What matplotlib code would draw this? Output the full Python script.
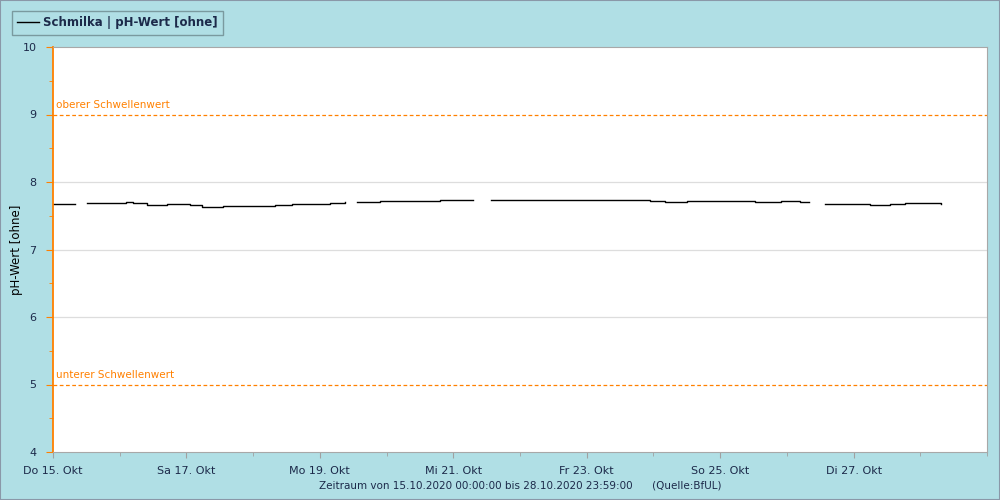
import numpy as np
import pandas as pd
import matplotlib
matplotlib.use("Agg")
import matplotlib.pyplot as plt
import matplotlib.dates as mdates
from matplotlib.patches import Rectangle

#measurement segments, days since 15.10.2020 00:00 and pH value
seg_days = [
    [0.0, 0.33],
    [0.51, 0.78, 0.97, 1.09, 1.20, 1.30, 1.41, 1.71, 2.05, 2.23, 2.55, 2.95, 3.33, 3.58, 4.15, 4.30, 4.38],
    [4.56, 4.90, 5.35, 5.80, 6.30],
    [6.57, 8.01, 8.95, 9.18, 9.51, 10.52, 10.91, 11.20, 11.33],
    [11.57, 11.95, 12.25, 12.55, 12.77, 13.00, 13.31],
]
seg_values = [
    [7.67, 7.67],
    [7.69, 7.685, 7.69, 7.70, 7.695, 7.685, 7.66, 7.67, 7.655, 7.635, 7.645, 7.645, 7.665, 7.68, 7.685, 7.69, 7.70],
    [7.71, 7.72, 7.725, 7.73, 7.73],
    [7.74, 7.73, 7.715, 7.70, 7.715, 7.70, 7.715, 7.70, 7.70],
    [7.68, 7.675, 7.665, 7.675, 7.69, 7.685, 7.68],
]
upper_limit = 9
lower_limit = 5
tick_labels = ["Do 15. Okt", "Sa 17. Okt", "Mo 19. Okt", "Mi 21. Okt", "Fr 23. Okt", "So 25. Okt", "Di 27. Okt"]

start = pd.Timestamp("2020-10-15")
end = pd.Timestamp("2020-10-29")

bg = "#b0dfe5"
orange = "#ff8000"
txt = "#1c2a4a"

plt.rcParams['font.family'] = ['DejaVu Sans']
fig = plt.figure(figsize=(10, 5), dpi=100, facecolor=bg)
ax = fig.add_axes([0.053, 0.096, 0.934, 0.81])
ax.set_facecolor("white")

for i, days in enumerate(seg_days):
    times = [start + pd.Timedelta(days=d) for d in days]
    ax.plot(times, seg_values[i], color="black", linewidth=1.0, drawstyle="steps-post",
            label="Schmilka | pH-Wert [ohne]" if i == 0 else None)

#thresholds
ax.axhline(upper_limit, color=orange, linestyle=(0, (3, 2)), linewidth=0.9)
ax.axhline(lower_limit, color=orange, linestyle=(0, (3, 2)), linewidth=0.9)
ax.text(start + pd.Timedelta(hours=1), upper_limit + 0.06, "oberer Schwellenwert", color=orange, fontsize=7.5, va="bottom")
ax.text(start + pd.Timedelta(hours=1), lower_limit + 0.06, "unterer Schwellenwert", color=orange, fontsize=7.5, va="bottom")

ax.set_ylim(4, 10)
ax.set_xlim(start, end)
ax.set_yticks([4, 5, 6, 7, 8, 9, 10])
ax.set_yticks(np.arange(4.5, 10, 1), minor=True)
for y in [6, 7, 8]:
    ax.axhline(y, color="#dddddd", linewidth=0.9, zorder=0)

major = [start + pd.Timedelta(days=2 * k) for k in range(7)]
ax.set_xticks(major)
ax.set_xticklabels(tick_labels)
ax.xaxis.set_minor_locator(mdates.DayLocator())

ax.tick_params(axis="x", which="both", colors="#a0a0a0", labelcolor=txt, labelsize=8, pad=6)
ax.tick_params(axis="x", which="major", length=4)
ax.tick_params(axis="x", which="minor", length=3)
ax.tick_params(axis="y", which="both", colors=orange, labelcolor=txt, labelsize=8, pad=7)
ax.tick_params(axis="y", which="major", length=5)
ax.tick_params(axis="y", which="minor", length=3)

for s in ["top", "right", "bottom"]:
    ax.spines[s].set_color("#a8a8a8")
ax.spines["left"].set_color(orange)
ax.spines["left"].set_linewidth(1.3)

ax.set_ylabel("pH-Wert [ohne]", fontsize=8.5, color="black")
ax.yaxis.set_label_coords(-0.032, 0.5)

leg = fig.legend(loc="upper left", bbox_to_anchor=(0.012, 0.978), borderaxespad=0, fancybox=False, facecolor=bg,
                 edgecolor="#7a9a9f", framealpha=1, handlelength=1.8, borderpad=0.45, handletextpad=0.4,
                 prop={"weight": "bold", "size": 8.5})
for t in leg.get_texts():
    t.set_color(txt)

fig.text(0.52, 0.028, "Zeitraum von 15.10.2020 00:00:00 bis 28.10.2020 23:59:00      (Quelle:BfUL)",
         ha="center", va="center", fontsize=7.5, color=txt)

fig.patches.append(Rectangle((0, 0), 1, 1, transform=fig.transFigure, fill=False,
                             edgecolor="#8a98a8", linewidth=1.5))

plt.savefig("out.png", dpi=100, facecolor=bg)
